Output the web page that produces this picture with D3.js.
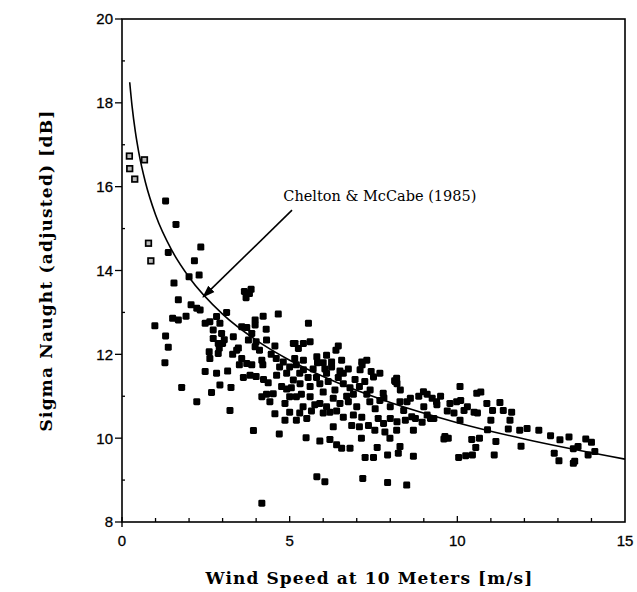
<!DOCTYPE html>
<html>
<head>
<meta charset="utf-8">
<script src="https://cdn.jsdelivr.net/npm/d3@7"></script>
<style>
  body { margin: 0; background: #fff; }
  svg { display: block; }
</style>
</head>
<body>
<svg id="chart"></svg>
<script>
// data
const xTicks = [0, 5, 10, 15];
const yTicks = [8, 10, 12, 14, 16, 18, 20];

// open squares (low winds)
const openWind = [0.22, 0.23, 0.67, 0.38, 0.79, 0.86];
const openSigma = [16.73, 16.43, 16.64, 16.18, 14.65, 14.23];

const windSpeed = [
  1.30, 1.61, 1.38, 2.35, 2.16, 2.30, 2.00, 1.55, 1.68, 2.06, 2.23, 2.33, 1.51, 1.68, 1.91, 0.98, 1.30, 1.38,
  3.65, 3.80, 3.70, 3.85, 3.12, 2.82, 2.62, 2.48, 2.92, 2.72, 2.97, 2.72, 2.87, 3.00, 2.90, 3.32, 3.57, 3.72,
  3.97, 4.21, 4.66, 3.97, 3.87, 4.31, 4.56, 3.77, 3.47, 5.56, 5.61, 5.41, 5.11, 6.45, 6.38, 5.83, 6.00, 6.25,
  7.16, 7.50, 8.20, 1.28, 1.78, 2.23, 2.48, 2.82, 2.92, 2.67, 3.25, 3.22, 2.60, 2.87, 2.62, 3.42, 3.57, 3.72,
  3.87, 3.97, 4.17, 4.20, 4.81, 3.62, 3.82, 4.00, 4.22, 4.36, 4.61, 4.91, 4.76, 4.91, 4.17, 4.31, 4.51, 4.41,
  4.86, 4.56, 4.86, 3.92, 4.69, 4.17, 5.16, 5.26, 5.41, 5.81, 6.10, 6.25, 6.55, 7.15, 7.30, 5.00, 5.41, 6.10,
  6.50, 6.60, 7.10, 7.43, 7.69, 8.19, 8.15, 5.11, 5.31, 5.61, 5.90, 6.35, 6.60, 7.08, 7.24, 7.40, 7.79, 8.99,
  9.10, 8.85, 5.00, 5.20, 5.61, 5.90, 6.10, 6.30, 6.50, 6.75, 7.00, 7.39, 7.69, 8.00, 8.29, 8.50, 8.40, 9.38,
  9.78, 9.98, 5.00, 5.20, 5.51, 6.00, 6.20, 6.60, 6.90, 7.15, 7.64, 8.00, 8.20, 8.45, 8.75, 9.10, 9.30, 6.30,
  7.08, 7.54, 7.84, 7.99, 8.19, 8.69, 5.49, 5.90, 6.20, 7.14, 9.63, 9.73, 6.40, 6.55, 6.80, 7.61, 8.29, 8.24,
  7.25, 7.50, 7.92, 8.69, 10.04, 5.81, 6.05, 7.18, 7.92, 8.49, 10.08, 10.58, 10.70, 10.10, 10.20, 10.50, 10.60, 10.88,
  11.05, 11.27, 11.37, 11.62, 11.00, 11.57, 11.52, 11.86, 12.08, 12.43, 10.08, 10.43, 10.66, 10.55, 10.45, 10.25, 11.15, 11.10,
  11.90, 12.78, 13.06, 13.33, 13.83, 14.00, 12.89, 13.03, 13.46, 13.50, 13.46, 13.60, 13.90, 14.10, 8.13, 7.81, 8.64, 9.39,
  9.20, 8.95, 9.60, 9.50, 9.00, 9.70, 4.00, 4.30, 4.10, 4.60, 5.20, 5.30, 5.70, 6.80, 6.90, 6.70, 5.75, 5.40, 6.00,
  5.05, 5.35, 5.55, 5.80, 6.15, 6.45, 6.75, 6.95, 7.30, 7.55, 6.40, 5.65, 5.30, 6.85, 7.35, 7.80, 3.30, 3.50,
  3.15, 3.05, 4.45, 4.70, 8.60, 8.30, 9.25, 9.90, 10.30, 10.90, 6.05, 5.15
];
const sigmaNaught = [
  15.66, 15.10, 14.43, 14.56, 14.23, 13.89, 13.85, 13.70, 13.30, 13.18, 13.10, 13.06, 12.86, 12.82, 12.91, 12.68, 12.44, 12.17,
  13.50, 13.45, 13.35, 13.55, 13.00, 12.90, 12.78, 12.74, 12.74, 12.58, 12.50, 12.38, 12.26, 12.26, 12.15, 12.42, 12.66, 12.64,
  12.82, 12.91, 12.96, 12.70, 12.50, 12.34, 12.20, 12.34, 12.15, 12.74, 12.30, 12.26, 12.26, 12.20, 12.10, 11.80, 11.80, 11.70,
  11.75, 11.46, 11.30, 11.80, 11.21, 10.87, 11.59, 11.55, 11.27, 11.09, 11.21, 10.66, 12.06, 12.02, 11.90, 12.10, 11.90, 11.78,
  11.75, 12.18, 11.86, 11.75, 11.82, 11.45, 11.50, 11.47, 11.40, 11.32, 11.50, 11.55, 11.23, 11.17, 10.99, 11.05, 11.06, 10.87,
  10.83, 10.58, 10.43, 10.18, 10.10, 8.45, 12.26, 12.14, 11.86, 11.94, 11.98, 11.82, 11.86, 11.82, 11.86, 11.70, 11.63, 11.55,
  11.60, 11.55, 11.63, 11.59, 11.55, 11.43, 11.35, 11.39, 11.30, 11.23, 11.30, 11.15, 11.30, 11.23, 11.35, 11.15, 11.07, 11.11,
  11.05, 11.00, 10.99, 10.99, 10.99, 10.83, 10.75, 10.95, 10.83, 10.87, 10.75, 10.87, 10.90, 10.75, 10.87, 10.87, 10.66, 10.87,
  10.83, 10.87, 10.62, 10.43, 10.47, 10.60, 10.62, 10.50, 10.55, 10.50, 10.47, 10.47, 10.39, 10.43, 10.47, 10.55, 10.47, 10.27,
  10.27, 10.19, 10.15, 10.00, 10.19, 10.19, 10.01, 9.93, 9.97, 10.00, 10.04, 10.00, 9.84, 9.76, 9.76, 9.78, 9.80, 9.64,
  9.54, 9.54, 9.60, 9.57, 9.54, 9.08, 8.96, 9.04, 8.94, 8.88, 11.23, 11.07, 11.10, 10.90, 10.66, 10.62, 10.60, 10.83,
  10.66, 10.85, 10.66, 10.62, 10.43, 10.43, 10.22, 10.19, 10.23, 10.19, 10.43, 9.97, 10.00, 9.78, 9.60, 9.58, 9.92, 9.60,
  9.81, 10.06, 9.96, 10.03, 9.98, 9.90, 9.64, 9.46, 9.40, 9.45, 9.75, 9.80, 9.60, 9.68, 11.37, 10.96, 10.51, 10.80,
  10.47, 10.38, 9.98, 11.00, 10.75, 10.65, 12.30, 12.60, 12.10, 11.90, 11.75, 11.55, 11.65, 11.20, 11.05, 11.00, 10.80, 10.75, 11.10,
  11.20, 11.05, 11.45, 11.45, 11.35, 11.45, 11.65, 11.40, 11.05, 10.70, 10.65, 10.65, 10.60, 10.30, 10.30, 10.35, 12.00, 11.75,
  11.60, 12.35, 12.00, 11.70, 10.95, 11.15, 10.95, 10.60, 10.75, 10.20, 11.65, 11.90
];

// Chelton & McCabe (1985) model curve
const curveWind = [0.23, 0.3, 0.4, 0.5, 0.7, 1, 1.5, 2, 3, 4, 5, 6, 8, 10, 12, 15];
const curveSigma = [18.49, 17.92, 17.30, 16.82, 16.10, 15.33, 14.46, 13.84, 12.96, 12.34, 11.86, 11.47, 10.85, 10.37, 9.98, 9.50];

const W = 637, H = 592;
const margin = { top: 19, right: 12, bottom: 70, left: 122 };

const svg = d3.select("#chart").attr("width", W).attr("height", H);

const x = d3.scaleLinear().domain([0, 15]).range([margin.left, W - margin.right]);
const y = d3.scaleLinear().domain([8, 20]).range([H - margin.bottom, margin.top]);

// frame
svg.append("rect")
  .attr("x", x(0)).attr("y", y(20))
  .attr("width", x(15) - x(0)).attr("height", y(8) - y(20))
  .style("fill", "none").style("stroke", "#000").style("stroke-width", 1.6);

// x axis: minor ticks pointing in, labels below
const xAxis = svg.append("g").attr("transform", `translate(0,${y(8)})`);
xAxis.selectAll("line.minor")
  .data(d3.range(1, 15))
  .join("line")
  .attr("class", "minor")
  .attr("x1", (d) => x(d)).attr("x2", (d) => x(d))
  .attr("y1", 0).attr("y2", (d) => (d % 5 === 0 ? -6 : -4))
  .style("stroke", "#000").style("stroke-width", 1.3);
xAxis.append("line")
  .attr("x1", x(0)).attr("x2", x(0)).attr("y1", -5).attr("y2", 5)
  .style("stroke", "#000").style("stroke-width", 1.4);
xAxis.selectAll("text")
  .data(xTicks)
  .join("text")
  .attr("x", (d) => x(d))
  .attr("y", 24)
  .attr("text-anchor", "middle")
  .style("font-family", "'Liberation Sans', Arial, sans-serif")
  .style("font-size", "15px")
  .style("stroke", "#000").style("stroke-width", 0.3)
  .text((d) => d);

// y axis: major ticks out, minor in
const yAxis = svg.append("g").attr("transform", `translate(${x(0)},0)`);
yAxis.selectAll("line.major")
  .data(yTicks)
  .join("line")
  .attr("class", "major")
  .attr("x1", -7).attr("x2", 0)
  .attr("y1", (d) => y(d)).attr("y2", (d) => y(d))
  .style("stroke", "#000").style("stroke-width", 1.3);
yAxis.selectAll("line.minor")
  .data(d3.range(9, 20, 2))
  .join("line")
  .attr("class", "minor")
  .attr("x1", 0).attr("x2", 3)
  .attr("y1", (d) => y(d)).attr("y2", (d) => y(d))
  .style("stroke", "#000").style("stroke-width", 1.3);
yAxis.selectAll("text")
  .data(yTicks)
  .join("text")
  .attr("x", -9)
  .attr("y", (d) => y(d))
  .attr("dy", "0.36em")
  .attr("text-anchor", "end")
  .style("font-family", "'Liberation Sans', Arial, sans-serif")
  .style("font-size", "15px")
  .style("stroke", "#000").style("stroke-width", 0.3)
  .text((d) => d);

// axis titles
svg.append("text")
  .attr("x", (x(0) + x(15)) / 2 - 4)
  .attr("y", 584)
  .attr("text-anchor", "middle")
  .style("font-family", "'DejaVu Serif', serif")
  .style("font-weight", "bold")
  .style("font-size", "17px")
  .style("letter-spacing", "1.1px")
  .text("Wind Speed at 10 Meters [m/s]");

svg.append("text")
  .attr("transform", `translate(52,${(y(8) + y(20)) / 2}) rotate(-90)`)
  .attr("text-anchor", "middle")
  .style("font-family", "'DejaVu Serif', serif")
  .style("font-weight", "bold")
  .style("font-size", "17px")
  .style("letter-spacing", "1.2px")
  .text("Sigma Naught (adjusted) [dB]");

// model curve
const points = curveWind.map((d, i) => [d, curveSigma[i]]);
svg.append("path")
  .attr("d", d3.line().x((d) => x(d[0])).y((d) => y(d[1])).curve(d3.curveMonotoneX)(points))
  .style("fill", "none")
  .style("stroke", "#000")
  .style("stroke-width", 1.6);

// scatter
const sq = 7;
svg.append("g")
  .selectAll("rect")
  .data(windSpeed.map((d, i) => [d, sigmaNaught[i]]))
  .join("rect")
  .attr("x", (d) => x(d[0]) - sq / 2)
  .attr("y", (d) => y(d[1]) - sq / 2)
  .attr("width", sq).attr("height", sq)
  .attr("rx", 1.4)
  .style("fill", "#000");

svg.append("g")
  .selectAll("rect")
  .data(openWind.map((d, i) => [d, openSigma[i]]))
  .join("rect")
  .attr("x", (d) => x(d[0]) - 2.8)
  .attr("y", (d) => y(d[1]) - 2.8)
  .attr("width", 5.6).attr("height", 5.6)
  .style("fill", "#bbb")
  .style("stroke", "#000")
  .style("stroke-width", 1.7);

// annotation
svg.append("defs").append("marker")
  .attr("id", "head")
  .attr("viewBox", "0 0 10 10")
  .attr("refX", 9).attr("refY", 5)
  .attr("markerWidth", 8).attr("markerHeight", 8)
  .attr("orient", "auto")
  .append("path")
  .attr("d", "M0,1.5 L10,5 L0,8.5 Z")
  .style("fill", "#000");

svg.append("line")
  .attr("x1", x(5.07)).attr("y1", y(15.44))
  .attr("x2", x(2.42)).attr("y2", y(13.37))
  .attr("marker-end", "url(#head)")
  .style("stroke", "#000")
  .style("stroke-width", 1.6);

svg.append("text")
  .attr("x", x(7.69))
  .attr("y", y(15.78))
  .attr("dy", "0.35em")
  .attr("text-anchor", "middle")
  .style("font-family", "'DejaVu Serif', serif")
  .style("font-size", "14.5px")
  .text("Chelton & McCabe (1985)");
</script>
</body>
</html>
